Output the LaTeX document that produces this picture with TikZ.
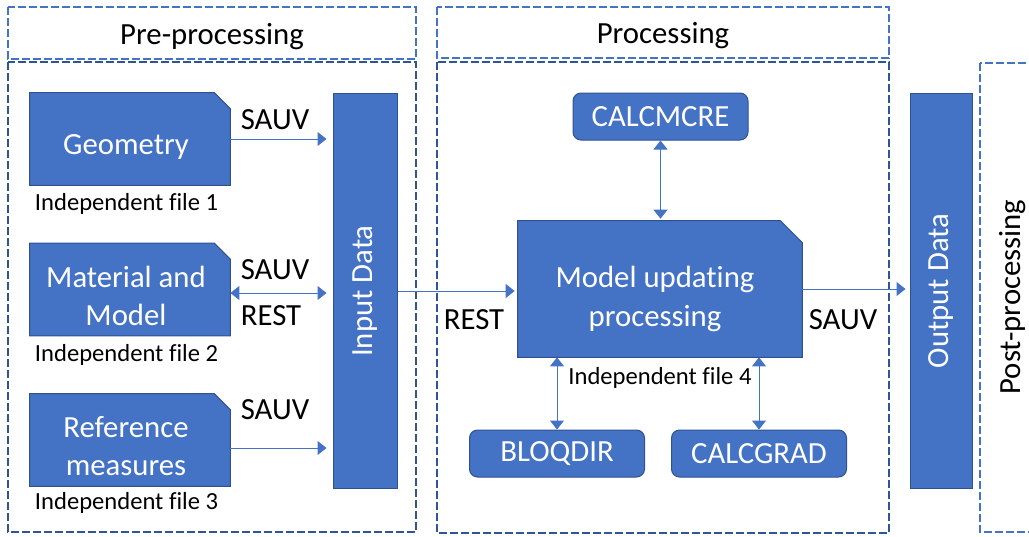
\documentclass[tikz,border=0pt]{standalone}
\usepackage{fontspec}
\setmainfont[Ligatures=NoCommon]{Carlito}
\usepackage{graphicx}
\usepackage{tikz}
\usetikzlibrary{arrows.meta}
\definecolor{boxblue}{HTML}{4472C4}
\definecolor{edgeblue}{HTML}{2F528F}
\definecolor{darkdash}{HTML}{2F5597}
\newcommand{\mainsize}{\fontsize{17.5}{21.3}\selectfont}
\newcommand{\notesize}{\fontsize{14}{17}\selectfont}
\newcommand{\stageframe}[5] % x1, y1, x2, y2 in px, colour
{
	% dashed stage outline
	\draw[#5, line width=0.4mm, dash pattern=on 1.6mm off 0.6mm] (#1,#2) rectangle (#3,#4);
}
\newcommand{\snipbox}[2] % node name, corner size
{
	% file shape with the top right corner cut off
	\filldraw[fill=boxblue, draw=edgeblue, line width=0.2mm] (#1.north west)
		-- ([xshift=-#2]#1.north east) -- ([yshift=-#2]#1.north east)
		-- (#1.south east) -- (#1.south west) -- cycle;
}
\tikzset{
	filebox/.style={rectangle, inner sep=0pt, minimum width=40mm, minimum height=18.4mm},
	filetext/.style={text=white, align=center, font=\mainsize},
	databar/.style={rectangle, fill=boxblue, draw=edgeblue, line width=0.2mm,
		text=white, font=\mainsize, minimum width=12.8mm, minimum height=78.8mm},
	routine/.style={rectangle, rounded corners=1.6mm, fill=boxblue, draw=edgeblue,
		line width=0.2mm, text=white, font=\mainsize, minimum width=35mm, minimum height=9.4mm},
	stagetag/.style={font=\mainsize},
	note/.style={font=\notesize, inner xsep=1mm, inner ysep=1.6mm},
	flowtag/.style={font=\mainsize, inner sep=0pt},
	flow/.style={boxblue, line width=0.2mm}
}

\begin{document}
\begin{tikzpicture}[x=0.2mm, y=-0.2mm, >={Triangle[length=1.8mm,width=2.8mm]}]
	% 1029 x 536 px, 0.2mm per px
	\useasboundingbox (0,0) rectangle (1029,536);
	
	% stages
	\stageframe{8}{7}{416}{59}{boxblue};
	\stageframe{437}{7}{889}{58}{boxblue};
	\stageframe{8}{62}{416}{532}{darkdash};
	\stageframe{437}{62}{889}{533}{darkdash};
	\stageframe{980}{63}{1040}{532}{boxblue};
	\node[stagetag] (prehead) at (212,37) {Pre-processing};
	\node[stagetag] (prochead) at (663,36) {Processing};
	\node[stagetag] (posthead) at (1013,297) {\rotatebox{90}{Post-processing}};
	
	% independent files
	\node[filebox] (geo) at (130,139) {};
	\snipbox{geo}{3.2mm};
	\node[filetext] (geotext) at ([xshift=-0.8mm, yshift=-1.6mm]geo) {Geometry};
	\node[filebox] (mat) at (130,289.5) {};
	\snipbox{mat}{3.2mm};
	\node[filetext] (mattext) at ([xshift=-0.8mm, yshift=-1.3mm]mat) {Material and\\Model};
	\node[filebox] (ref) at (130,440) {};
	\snipbox{ref}{3.2mm};
	\node[filetext] (reftext) at ([xshift=-0.8mm, yshift=-1.2mm]ref) {Reference\\measures};
	\node[note, anchor=north west] (note1) at (geo.south west) {Independent file 1};
	\node[note, anchor=north west] (note2) at (mat.south west) {Independent file 2};
	\node[note, anchor=north west] (note3) at ([yshift=0.4mm]ref.south west) {Independent file 3};
	
	\node[databar] (input) at (365,291) {\rotatebox{90}{Input Data}};
	\node[databar, minimum width=12.4mm] (output) at (941,291) {\rotatebox{90}{Output Data}};
	
	\node[filebox, minimum width=56.8mm, minimum height=27.2mm] (model) at (660,289) {};
	\snipbox{model}{4.4mm};
	\node[filetext, font=\fontsize{17.5}{22.2}\selectfont] (modeltext) at ([xshift=-1mm, yshift=-1.9mm]model) {Model updating\\processing};
	\node[note, anchor=north, inner ysep=2mm] (note4) at (model.south) {Independent file 4};
	
	\node[routine] (mcre) at (660.5,116.5) {CALCMCRE};
	\node[routine] (bloq) at (557,453.5) {BLOQDIR};
	\node[routine] (grad) at (759,453.5) {CALCGRAD};
	
	% exchanges
	\draw[flow, ->, shorten >=1.2mm] (geo.east) -- (geo.east -| input.west);
	\draw[flow, <->, shorten >=1.2mm] ([yshift=-0.7mm]mat.east) -- ([yshift=-0.7mm]mat.east -| input.west);
	\draw[flow, ->, shorten >=1.2mm] ([yshift=-1.6mm]ref.east) -- ([yshift=-1.6mm]ref.east -| input.west);
	\draw[flow, ->, shorten >=0.6mm] (input.east) -- (input.east -| model.west);
	\draw[flow, ->, shorten >=0.8mm] (model.east) -- (model.east -| output.west);
	\draw[flow, <->, shorten >=0.4mm] (mcre.south) -- (mcre.south |- model.north);
	\draw[flow, <->] (bloq.north) -- (bloq.north |- model.south);
	\draw[flow, <->] (grad.north) -- (grad.north |- model.south);
	
	\node[flowtag] (save1) at (275,120) {SAUV};
	\node[flowtag] (save2) at (275,270) {SAUV};
	\node[flowtag] (rest2) at (271,316) {REST};
	\node[flowtag] (save3) at (275,410) {SAUV};
	\node[flowtag] (rest4) at (474,320) {REST};
	\node[flowtag] (save4) at (843,320) {SAUV};
\end{tikzpicture}
\end{document}
